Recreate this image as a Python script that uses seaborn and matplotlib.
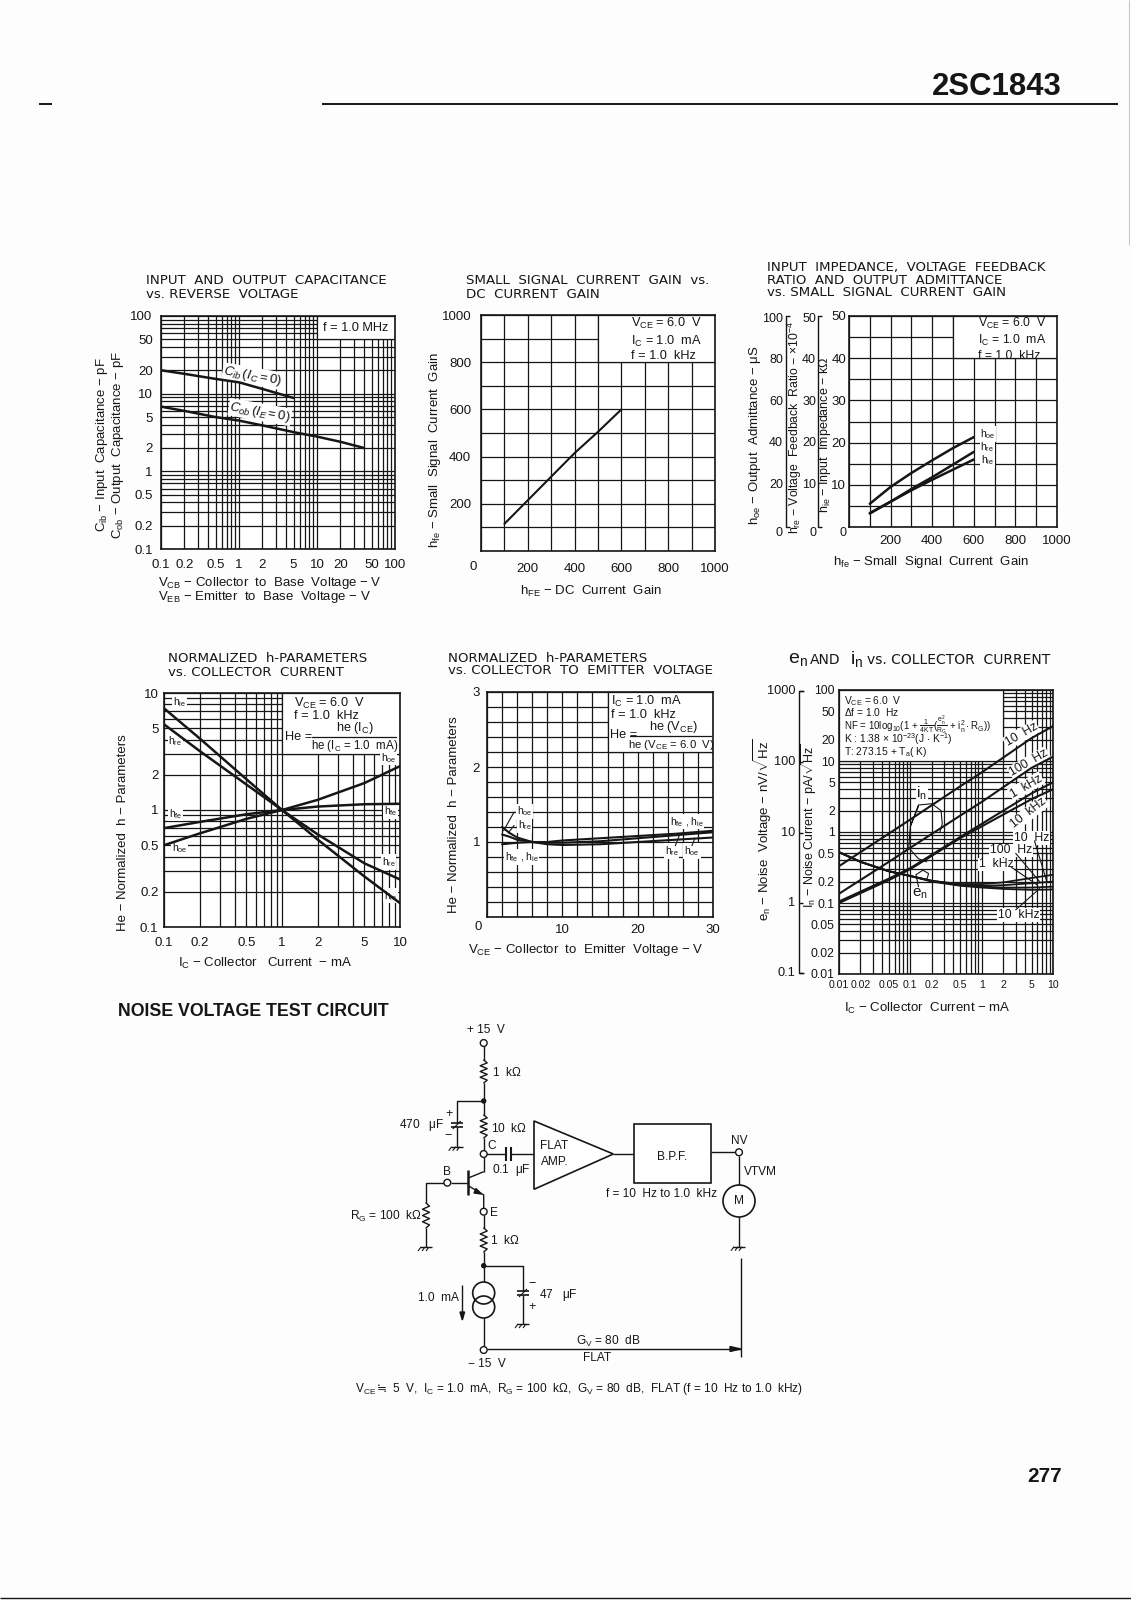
import numpy as np
import matplotlib
matplotlib.use("Agg")
import matplotlib.pyplot as plt
from matplotlib.patches import Rectangle, Circle, Polygon
import seaborn as sns

W, H = 1131, 1600
NARROW = ['Liberation Sans', 'DejaVu Sans']
WIDE = ['DejaVu Sans']

# capacitance chart
volt_cib = [0.1, 0.2, 0.5, 1, 2, 5]
cib = [20, 18, 15.5, 14, 11.5, 8.8]
volt_cob = [0.1, 0.2, 0.5, 1, 2, 5, 10, 20, 40]
cob = [6.8, 6.0, 5.0, 4.5, 3.9, 3.2, 2.8, 2.4, 2.0]

# hfe chart
hfe_dc = [100, 200, 300, 400, 500, 600]
hfe_small = [115, 215, 315, 415, 505, 600]

# input impedance chart
hfe_x = [100, 200, 300, 400, 500, 600]
hoe_y = [5.5, 9.5, 12.8, 15.8, 18.7, 21.3]
hre_y = [3.3, 6.0, 9.0, 11.8, 14.8, 17.8]
hie_y = [3.2, 6.0, 8.7, 11.2, 13.6, 16.0]

# normalized vs Ic
ic = [0.1, 0.2, 0.5, 1, 2, 5, 10]
n_hie = [7.4, 4.1, 1.83, 1.0, 0.56, 0.27, 0.16]
n_hre = [5.4, 3.2, 1.65, 1.0, 0.62, 0.35, 0.255]
n_hfe = [0.7, 0.79, 0.92, 1.0, 1.07, 1.12, 1.13]
n_hoe = [0.5, 0.63, 0.84, 1.0, 1.22, 1.7, 2.37]

# normalized vs Vce
vce = [2, 3, 4, 6, 8, 10, 15, 20, 25, 30]
v_hoe = [1.2, 1.12, 1.06, 1.0, 0.97, 0.96, 0.97, 1.0, 1.03, 1.06]
v_hre = [1.1, 1.07, 1.03, 1.0, 0.99, 0.99, 1.01, 1.05, 1.09, 1.13]
v_hfe = [0.97, 0.98, 0.99, 1.0, 1.0, 1.02, 1.05, 1.08, 1.11, 1.15]

# noise chart
ic_n = [0.01, 0.05, 0.1, 0.5, 1, 5, 10]
in_10hz = [0.33, 0.95, 1.5, 4.4, 6.9, 21, 31]
in_100hz = [0.135, 0.38, 0.6, 1.7, 2.65, 8, 11.5]
in_1khz = [0.105, 0.22, 0.31, 0.85, 1.3, 3.5, 5]
in_10khz = [0.1, 0.21, 0.3, 0.82, 1.2, 2.9, 4]
ic_e = [0.01, 0.02, 0.05, 0.1, 0.2, 0.5, 1, 2, 5, 10]
en_10hz = [0.52, 0.38, 0.28, 0.24, 0.205, 0.185, 0.185, 0.195, 0.225, 0.25]
en_100hz = [0.52, 0.38, 0.28, 0.24, 0.205, 0.18, 0.175, 0.178, 0.19, 0.2]
en_1khz = [0.52, 0.38, 0.28, 0.24, 0.205, 0.178, 0.17, 0.165, 0.165, 0.17]
en_10khz = [0.52, 0.38, 0.28, 0.24, 0.2, 0.175, 0.165, 0.158, 0.153, 0.155]

log_y_grid = [m * 10.0 ** e for e in range(-1, 2) for m in range(1, 10)] + [100]
log_x_labels = {0.1: '0.1', 0.2: '0.2', 0.5: '0.5', 1: '1', 2: '2', 5: '5', 10: '10', 20: '20', 50: '50', 100: '100'}
y_labels_c = dict(log_x_labels)

sns.set_theme(style="white")
plt.rcParams['font.family'] = NARROW
plt.rcParams['mathtext.fontset'] = 'custom'
plt.rcParams['mathtext.rm'] = 'Liberation Sans'
plt.rcParams['mathtext.it'] = 'Liberation Sans:italic'
plt.rcParams['mathtext.bf'] = 'Liberation Sans:bold'
plt.rcParams['mathtext.default'] = 'regular'
plt.rcParams['text.color'] = '#1a1a1a'

fig = plt.figure(figsize=(W / 100, H / 100), dpi=100, facecolor='#fdfdfd')

INK = '#161616'


def chart(l, r, t, b, xscale, yscale, xlim, ylim, xgrid, ygrid, xlab, ylab, box, tick=9.5, xpad=6, ypad=5):
    ax = fig.add_axes([l / W, 1 - b / H, (r - l) / W, (b - t) / H], facecolor='white')
    ax.set_xscale(xscale)
    ax.set_yscale(yscale)
    ax.set_xlim(xlim)
    ax.set_ylim(ylim)
    ax.set_xticks(xgrid, [xlab.get(v, '') for v in xgrid])
    ax.set_yticks(ygrid, [ylab.get(v, '') for v in ygrid])
    ax.minorticks_off()
    ax.grid(True, color=INK, lw=0.9)
    ax.set_axisbelow(True)
    ax.tick_params(length=0, labelsize=tick, colors=INK)
    ax.tick_params(axis='x', pad=xpad)
    ax.tick_params(axis='y', pad=ypad)
    for s in ax.spines.values():
        s.set_color(INK)
        s.set_linewidth(1.2)
    x0, x1, y0, y1 = box
    ax.add_patch(Rectangle((x0, y0), x1 - x0, y1 - y0, fc='white', ec=INK, lw=0.9, zorder=1))
    return ax


def curve(ax, x, y, lw=1.8):
    sns.lineplot(x=x, y=y, ax=ax, color=INK, lw=lw, errorbar=None, sort=False, legend=False)
    ax.set_xlabel('')
    ax.set_ylabel('')


def tag(ax, x, y, s, size=7.5, **kw):
    ax.text(x, y, s, fontsize=size, ha='center', va='center', color=INK, zorder=1.5,
            bbox=dict(fc='white', ec='none', pad=0.6), **kw)


def note(ax, x, y, s, ha='left', size=9.2):
    ax.text(x, y, s, fontsize=size, ha=ha, va='center', color=INK, zorder=3)


# chart 1
ax1 = chart(161, 395, 316, 549, 'log', 'log', (0.1, 100), (0.1, 100),
            log_y_grid, log_y_grid, log_x_labels, y_labels_c, (10, 100, 50, 100), xpad=7, ypad=6)
curve(ax1, volt_cib, cib)
curve(ax1, volt_cob, cob)
tag(ax1, 1.49, 16.8, r'$\mathit{C_{ib}\,(I_C=0)}$', size=9.5, rotation=-10)
tag(ax1, 1.86, 5.8, r'$\mathit{C_{ob}\,(I_E=0)}$', size=9.5, rotation=-10)
note(ax1, 31, 71, 'f = 1.0 MHz', ha='center')

# chart 2
hund = list(range(0, 1001, 100))
lab2 = {0: '', 200: '200', 400: '400', 600: '600', 800: '800', 1000: '1000'}
ax2 = chart(481, 715, 315, 551, 'linear', 'linear', (0, 1000), (0, 1000),
            hund, hund, lab2, lab2, (500, 1000, 800, 1000), xpad=9, ypad=7)
curve(ax2, hfe_dc, hfe_small, lw=1.5)
note(ax2, 640, 897, 'V$_{CE}$ = 6.0  V\nI$_C$ = 1.0  mA\nf = 1.0  kHz')

# chart 3
ygrid3 = list(range(0, 51, 5))
lab3x = {200: '200', 400: '400', 600: '600', 800: '800', 1000: '1000'}
lab3y = {10: '10', 20: '20', 30: '30', 40: '40', 50: '50'}
ax3 = chart(849, 1057, 316, 527, 'linear', 'linear', (0, 1000), (0, 50),
            hund, ygrid3, lab3x, lab3y, (500, 1000, 40, 50), xpad=6, ypad=2)
curve(ax3, hfe_x, hoe_y)
curve(ax3, hfe_x, hre_y)
curve(ax3, hfe_x, hie_y)
note(ax3, 620, 44.6, 'V$_{CE}$ = 6.0  V\nI$_C$ = 1.0  mA\nf = 1.0  kHz', size=8.8)
tag(ax3, 665, 22, r'h$_{oe}$')
tag(ax3, 665, 19, r'h$_{re}$')
tag(ax3, 665, 15.8, r'h$_{ie}$')

# chart 4
grid4x = [m * 10.0 ** e for e in (-1, 0) for m in range(1, 10)] + [10]
lab4 = {0.1: '0.1', 0.2: '0.2', 0.5: '0.5', 1: '1', 2: '2', 5: '5', 10: '10'}
ax4 = chart(164, 400, 693, 927, 'log', 'log', (0.1, 10), (0.1, 10),
            grid4x, grid4x, lab4, lab4, (1, 10, 3, 10), xpad=7, ypad=4)
for s in (n_hie, n_hre, n_hfe, n_hoe):
    curve(ax4, ic, s)
note(ax4, 1.26, 8.2, 'V$_{CE}$ = 6.0  V')
note(ax4, 1.26, 6.4, 'f = 1.0  kHz')
note(ax4, 1.07, 4.2, 'He =')
note(ax4, 4.17, 5.0, 'he (I$_C$)', ha='center')
note(ax4, 4.1, 3.55, 'he (I$_C$ = 1.0  mA)', ha='center', size=8.3)
ax4.plot([1.8, 9.2], [4.2, 4.2], color=INK, lw=0.9, zorder=3)
tag(ax4, 0.135, 8.3, r'h$_{ie}$')
tag(ax4, 0.125, 3.9, r'h$_{re}$')
tag(ax4, 0.125, 0.93, r'h$_{fe}$')
tag(ax4, 0.135, 0.47, r'h$_{oe}$')
tag(ax4, 8, 2.8, r'h$_{oe}$')
tag(ax4, 8.3, 0.98, r'h$_{fe}$')
tag(ax4, 8, 0.36, r'h$_{re}$')
tag(ax4, 8.3, 0.185, r'h$_{ie}$')

# chart 5
grid5x = list(range(0, 31, 2))
grid5y = [round(v * 0.2, 1) for v in range(0, 16)]
ax5 = chart(487, 713, 692, 917, 'linear', 'linear', (0, 30), (0, 3),
            grid5x, grid5y, {10: '10', 20: '20', 30: '30'}, {1.0: '1', 2.0: '2', 3.0: '3'},
            (16, 30, 2.2, 3), xpad=5, ypad=5)
curve(ax5, vce, v_hoe, lw=1.5)
curve(ax5, vce, v_hre, lw=1.5)
curve(ax5, vce, v_hfe, lw=1.5)
note(ax5, 16.5, 2.88, 'I$_C$ = 1.0  mA')
note(ax5, 16.5, 2.70, 'f = 1.0  kHz')
note(ax5, 16.3, 2.42, 'He =')
note(ax5, 24.7, 2.53, 'he (V$_{CE}$)', ha='center')
note(ax5, 24.4, 2.30, 'he (V$_{CE}$ = 6.0  V)', ha='center', size=8.2)
ax5.plot([19, 29.7], [2.42, 2.42], color=INK, lw=0.9, zorder=3)
tag(ax5, 5, 1.41, r'h$_{oe}$')
tag(ax5, 5, 1.22, r'h$_{re}$')
tag(ax5, 4.6, 0.8, r'h$_{fe}$ , h$_{ie}$')
tag(ax5, 26.5, 1.27, r'h$_{fe}$ , h$_{ie}$')
tag(ax5, 24.5, 0.88, r'h$_{re}$')
tag(ax5, 27.2, 0.88, r'h$_{oe}$')
ax5.plot([2.2, 3.6], [1.15, 1.4], color=INK, lw=0.8)
ax5.plot([2.8, 3.6], [1.12, 1.22], color=INK, lw=0.8)
ax5.plot([25, 25.5], [0.95, 1.08], color=INK, lw=0.8)
ax5.plot([27.2, 27.6], [0.95, 1.05], color=INK, lw=0.8)

# chart 6
grid6 = [m * 10.0 ** e for e in range(-2, 2) for m in range(1, 10)] + [100]
lab6x = {0.01: '0.01', 0.02: '0.02', 0.05: '0.05', 0.1: '0.1', 0.2: '0.2', 0.5: '0.5', 1: '1', 2: '2', 5: '5', 10: '10'}
lab6y = dict(lab6x)
lab6y.update({20: '20', 50: '50', 100: '100'})
grid6x = [v for v in grid6 if v <= 10]
ax6 = chart(839, 1053, 690, 974, 'log', 'log', (0.01, 10), (0.01, 100),
            grid6x, grid6, lab6x, lab6y, (0.01, 2, 10, 100), tick=8.8, xpad=4, ypad=3)
ax6.tick_params(axis='x', labelsize=7.6)
for s in (in_10hz, in_100hz, in_1khz, in_10khz):
    curve(ax6, ic_n, s, lw=1.5)
for s in (en_10hz, en_100hz, en_1khz, en_10khz):
    curve(ax6, ic_e, s, lw=1.3)
for x, y, s, rot in [(3.6, 23.4, '10  Hz', 30), (4.6, 9.4, '100  Hz', 30), (4.2, 4.4, '1  kHz', 30), (4.6, 1.85, '10  kHz', 38)]:
    tag(ax6, x, y, s, size=8.8, rotation=rot)
for x, y, s in [(5, 0.82, '10  Hz'), (2.6, 0.55, '100  Hz'), (1.6, 0.35, '1  kHz'), (3.3, 0.067, '10  kHz')]:
    tag(ax6, x, y, s, size=8.8)
tag(ax6, 0.145, 3.5, 'i$_n$', size=11)
tag(ax6, 0.135, 0.134, 'e$_n$', size=11)
ax6.plot([0.13, 0.1, 0.13, 0.2, 0.27, 0.28, 0.26], [2.3, 1.2, 2.4, 2.5, 2.0, 1.3, 1.0], color=INK, lw=0.8)
ax6.plot([0.1, 0.095, 0.13, 0.17], [1.2, 0.6, 0.42, 0.38], color=INK, lw=0.8)
ax6.plot([0.13, 0.12, 0.15, 0.18, 0.17], [0.17, 0.25, 0.29, 0.26, 0.21], color=INK, lw=0.8)
ax6.plot([5.5, 8.2, 8.2], [0.75, 0.2, 0.5], color=INK, lw=0.8)
ax6.plot([3.0, 6.5], [0.5, 0.2], color=INK, lw=0.8)
ax6.plot([2.6, 6.0], [0.32, 0.18], color=INK, lw=0.8)
ax6.plot([3.0, 6.5], [0.08, 0.16], color=INK, lw=0.8)

# page overlay in pixel coordinates
page = fig.add_axes([0, 0, 1, 1], facecolor='none', zorder=5)
page.set_xlim(0, W)
page.set_ylim(H, 0)
page.axis('off')


def t(x, y, s, size=9.5, ha='center', rot=0, family=NARROW, weight='normal'):
    page.text(x, y, s, fontsize=size, ha=ha, va='center', rotation=rot, family=family, weight=weight, color=INK)


def wire(*pts, lw=1.0, color=INK):
    page.plot([p[0] for p in pts], [p[1] for p in pts], color=color, lw=lw, solid_capstyle='butt')


def resistor(x, y0, y1, n=4):
    ys = np.linspace(y0, y1, 2 * n + 1)
    xs = [x + (0 if i in (0, 2 * n) else (3.5 if i % 2 else -3.5)) for i in range(2 * n + 1)]
    page.plot(xs, ys, color=INK, lw=1.0)


def terminal(x, y):
    page.add_patch(Circle((x, y), 3.4, fc='white', ec=INK, lw=1.0, zorder=4))


def dot(x, y):
    page.add_patch(Circle((x, y), 2, fc=INK, ec=INK, zorder=4))


def ground(x, y):
    wire((x - 6, y), (x + 6, y))
    for d in (-5, -1, 3):
        wire((x + d, y), (x + d - 3, y + 4), lw=0.8)


def elcap(x, y):
    wire((x - 6, y - 2), (x + 6, y - 2), lw=1.2)
    wire((x - 6, y + 2), (x + 6, y + 2), lw=1.2)
    wire((x - 4, y + 4), (x + 4, y - 4), lw=0.8)


# header
BOLD = ['Liberation Sans', 'DejaVu Sans']
t(932, 87, '2SC1843', size=22.4, ha='left', family=BOLD, weight='bold')
wire((322, 104), (1118, 104), lw=1.4)
wire((39, 104), (52, 104), lw=1.4)
t(1062, 1476, '277', size=15, ha='right', family=BOLD, weight='bold')
t(118, 1011, 'NOISE VOLTAGE TEST CIRCUIT', size=12.8, ha='left', family=BOLD, weight='bold')
wire((0, 1598), (W, 1598), lw=1.0)
wire((1129, 0), (1129, 245), lw=0.8, color='#c8c8c8')

# chart titles
for x, y, s in [(146, 281, 'INPUT  AND  OUTPUT  CAPACITANCE'), (146, 294, 'vs. REVERSE  VOLTAGE'),
                (466, 281, 'SMALL  SIGNAL  CURRENT  GAIN  vs.'), (466, 294, 'DC  CURRENT  GAIN'),
                (767, 267, 'INPUT  IMPEDANCE,  VOLTAGE  FEEDBACK'), (767, 280, 'RATIO  AND  OUTPUT  ADMITTANCE'),
                (767, 293, 'vs. SMALL  SIGNAL  CURRENT  GAIN'),
                (168, 659, 'NORMALIZED  h-PARAMETERS'), (168, 672, 'vs. COLLECTOR  CURRENT'),
                (448, 658, 'NORMALIZED  h-PARAMETERS'), (448, 671, 'vs. COLLECTOR  TO  EMITTER  VOLTAGE')]:
    t(x, y, s, size=9.6, ha='left', family=WIDE)
t(788, 659, 'e$_n$', size=14, ha='left')
t(810, 660, 'AND', size=10, ha='left', family=WIDE)
t(850, 659, 'i$_n$', size=14, ha='left')
t(867, 660, 'vs. COLLECTOR  CURRENT', size=10, ha='left', family=WIDE)

# axis titles
t(102, 445, 'C$_{ib}$ − Input  Capacitance − pF', rot=90)
t(118, 445, 'C$_{ob}$ − Output  Capacitance − pF', rot=90)
t(158, 583, 'V$_{CB}$ − Collector  to  Base  Voltage − V', ha='left')
t(158, 597, 'V$_{EB}$ − Emitter  to  Base  Voltage − V', ha='left')
t(435, 450, 'h$_{fe}$ − Small  Signal  Current  Gain', rot=90)
t(591, 591, 'h$_{FE}$ − DC  Current  Gain')
t(755, 435, 'h$_{oe}$ − Output  Admittance − $\\mu$S', rot=90)
t(795, 428, 'h$_{re}$ − Voltage  Feedback  Ratio − $\\times$10$^{-4}$', rot=90, size=8.8)
t(825, 435, 'h$_{ie}$ − Input  Impedance − k$\\Omega$', rot=90, size=9)
t(931, 562, 'h$_{fe}$ − Small  Signal  Current  Gain')
t(123, 833, 'He − Normalized  h − Parameters', rot=90)
t(265, 963, 'I$_C$ − Collector   Current  − mA')
t(454, 815, 'He − Normalized  h − Parameters', rot=90)
t(586, 950, 'V$_{CE}$ − Collector  to  Emitter  Voltage − V')
t(763, 830, 'e$_n$ − Noise  Voltage − nV/$\\sqrt{Hz}$', rot=90)
t(809, 826, 'I$_n$ − Noise Current − pA/$\\sqrt{Hz}$', rot=90, size=9)
t(927, 1008, 'I$_C$ − Collector  Current − mA')

# noise formula box
for y, s, sz in [(701, 'V$_{CE}$ = 6.0  V', 7.4), (712, '$\\Delta$f = 1.0  Hz', 7.4),
                 (725, 'NF = 10log$_{10}$(1 + $\\frac{1}{4KT}$($\\frac{e_n^2}{R_G}$ + i$_n^2\\cdot$R$_G$))', 7.0),
                 (739, 'K : 1.38 $\\times$ 10$^{-23}$(J $\\cdot$ K$^{-1}$)', 7.4), (752, 'T: 273.15 + T$_a$( K)', 7.4)]:
    t(844, y, s, size=sz, ha='left')

# extra scales on chart 3 and chart 6
for xb in (786, 818):
    wire((xb + 4, 316), (xb, 316), (xb, 527), (xb + 4, 527))
ticks3 = [319, 360, 402, 443, 485, 533]
for v, y in zip(['100', '80', '60', '40', '20', '0'], ticks3):
    t(783, y, v, ha='right', size=9)
for v, y in zip(['50', '40', '30', '20', '10', '0'], ticks3):
    t(816, y, v, ha='right', size=9)
t(846, 533, '0', ha='right', size=9)
wire((804, 691), (799, 691), (799, 973), (804, 973))
for v, y in zip(['1000', '100', '10', '1', '0.1'], [691, 762, 833, 903, 973]):
    t(795, y, v, ha='right', size=9.2)
    wire((799, y), (803, y))
t(473, 567, '0')
t(478, 927, '0')

# circuit
MX = 483.7
wire((MX, 1046), (MX, 1060))
resistor(MX, 1060, 1083)
wire((MX, 1083), (MX, 1115))
dot(MX, 1101)
wire((MX, 1101), (456.7, 1101), (456.7, 1123))
elcap(456.7, 1125)
wire((456.7, 1127), (456.7, 1146.7))
ground(456.7, 1146.7)
resistor(MX, 1115, 1138)
wire((MX, 1138), (MX, 1171.7))
wire((468.3, 1178), (MX, 1171.7))
wire((468.3, 1170), (468.3, 1195), lw=1.8)
wire((451, 1182.7), (468.3, 1182.7))
wire((443.9, 1182.7), (426, 1182.7), (426, 1203))
resistor(426, 1203, 1228)
wire((426, 1228), (426, 1247))
ground(426, 1247)
wire((468.3, 1185.7), (MX, 1195), (MX, 1208))
page.add_patch(Polygon([(481.5, 1194), (474, 1193), (476, 1188.5)], fc=INK, ec=INK))
wire((MX, 1215), (MX, 1228))
resistor(MX, 1228, 1252)
wire((MX, 1252), (MX, 1282))
dot(MX, 1265.7)
wire((MX, 1265.7), (523, 1265.7), (523, 1291))
elcap(523, 1293)
wire((523, 1295), (523, 1324))
ground(523, 1324)
page.add_patch(Circle((MX, 1293), 11, fc='none', ec=INK, lw=1.2))
page.add_patch(Circle((MX, 1307), 11, fc='none', ec=INK, lw=1.2))
wire((MX, 1318), (MX, 1347))
wire((462.3, 1285), (462.3, 1318))
page.add_patch(Polygon([(460, 1312), (464.6, 1312), (462.3, 1320)], fc=INK, ec=INK))
wire((MX, 1154), (505.7, 1154))
wire((505.7, 1147), (505.7, 1161), lw=1.5)
wire((510.5, 1147), (510.5, 1161), lw=1.5)
wire((510.5, 1154), (534, 1154))
page.add_patch(Polygon([(534, 1121), (534, 1189.3), (613.3, 1154)], fc='white', ec=INK, lw=1.2, zorder=3))
wire((613.3, 1154), (634.3, 1154))
page.add_patch(Rectangle((634.3, 1124), 76.4, 59.3, fc='white', ec=INK, lw=1.2, zorder=3))
wire((710.7, 1152.3), (735.6, 1152.3))
wire((739, 1156), (739, 1185))
page.add_patch(Circle((739, 1201), 16, fc='white', ec=INK, lw=1.2))
wire((739, 1217), (739, 1246.7))
ground(739, 1246.7)
wire((741, 1258), (741, 1357))
wire((487, 1349), (741, 1349))
page.add_patch(Polygon([(741, 1349), (730, 1346.5), (730, 1351.5)], fc=INK, ec=INK))
for x, y in [(MX, 1043), (MX, 1154), (447.3, 1182.7), (MX, 1211.7), (MX, 1350), (739, 1152.3)]:
    terminal(x, y)

for x, y, s, ha in [(486, 1030, '+ 15  V', 'center'), (492, 1072, '1  k$\\Omega$', 'left'),
                    (399, 1125, '470   $\\mu$F', 'left'), (491, 1128, '10  k$\\Omega$', 'left'),
                    (487, 1146, 'C', 'left'), (447, 1172, 'B', 'center'),
                    (492, 1170, '0.1  $\\mu$F', 'left'), (540, 1146, 'FLAT', 'left'),
                    (541, 1162, 'AMP.', 'left'), (672, 1157, 'B.P.F.', 'center'),
                    (739, 1141, 'NV', 'center'), (744, 1172, 'VTVM', 'left'), (739, 1201, 'M', 'center'),
                    (606, 1194, 'f = 10  Hz to 1.0  kHz', 'left'), (350, 1216, 'R$_G$ = 100  k$\\Omega$', 'left'),
                    (490, 1213, 'E', 'left'), (490, 1240, '1  k$\\Omega$', 'left'),
                    (418, 1298, '1.0  mA', 'left'), (539, 1295, '47   $\\mu$F', 'left'),
                    (608, 1341, 'G$_V$ = 80  dB', 'center'), (597, 1358, 'FLAT', 'center'),
                    (487, 1364, '− 15  V', 'center'), (355, 1389, 'V$_{CE}$', 'left'),
                    (392, 1389, '5  V,  I$_C$ = 1.0  mA,  R$_G$ = 100  k$\\Omega$,  G$_V$ = 80  dB,  FLAT (f = 10  Hz to 1.0  kHz)', 'left')]:
    t(x, y, s, ha=ha, size=8.6)
t(377, 1389, '≒', size=8.6, ha='left', family=WIDE)
for x, y, s in [(449, 1114, '+'), (448, 1136, '−'), (532, 1284, '−'), (532, 1307, '+')]:
    t(x, y, s, size=9)

fig.savefig('out.png', dpi=100, facecolor=fig.get_facecolor())
